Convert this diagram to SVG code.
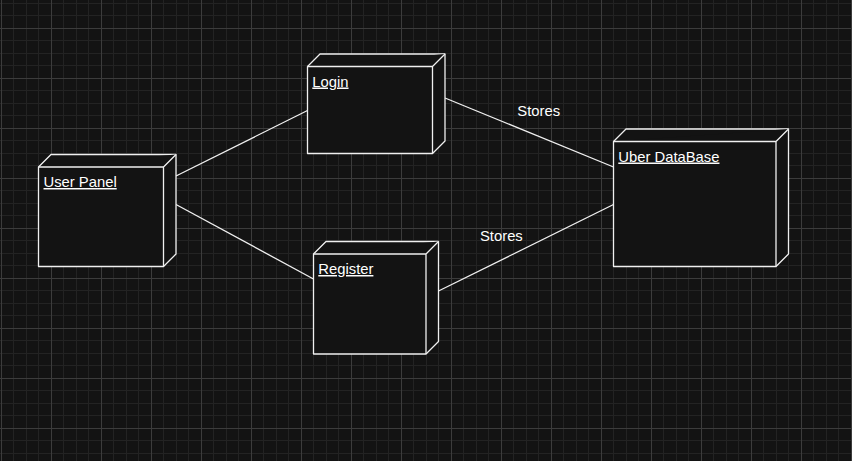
<svg xmlns="http://www.w3.org/2000/svg" width="852" height="461" viewBox="0 0 852 461">
  <defs>
    <pattern id="grid" patternUnits="userSpaceOnUse" x="1" y="28" width="50" height="50">
      <path d="M12.5 0V50M25.5 0V50M37.5 0V50M0 12.5H50M0 25.5H50M0 37.5H50" stroke="#232323" stroke-width="1" fill="none"/>
      <path d="M0.5 0V50M0 0.5H50" stroke="#3c3c3c" stroke-width="1" fill="none"/>
    </pattern>
    <style>
      .node path { fill: #131313; stroke: #f0f0f0; stroke-width: 1.3; stroke-linejoin: round; }
      .node text { font-family: "Liberation Sans", Arial, sans-serif; font-size: 14.8px; fill: #ffffff; text-decoration: underline; }
      .edge { stroke: #f0f0f0; stroke-width: 1.3; fill: none; }
      .lbl { font-family: "Liberation Sans", Arial, sans-serif; font-size: 14.8px; fill: #ffffff; }
    </style>
  </defs>
  <rect x="0" y="0" width="852" height="461" fill="#131313"/>
  <rect x="0" y="0" width="852" height="461" fill="url(#grid)"/>

  <g id="connectors">
    <line class="edge" x1="176" y1="176" x2="307.5" y2="110.5"/>
    <line class="edge" x1="176" y1="204.5" x2="313.5" y2="279"/>
    <line class="edge" x1="445" y1="98" x2="613.5" y2="167"/>
    <line class="edge" x1="438.5" y1="291" x2="613.5" y2="204.5"/>
    <text class="lbl" x="517.3" y="115.7">Stores</text>
    <text class="lbl" x="480" y="240.7">Stores</text>
  </g>

  <g id="user-panel" class="node">
    <path d="M38.5 167L51 154.5H176V254L163.5 266.5H38.5Z"/>
    <path d="M38.5 167H163.5L176 154.5M163.5 167V266.5" fill="none"/>
    <text x="43.5" y="187">User Panel</text>
  </g>

  <g id="login" class="node">
    <path d="M307.5 66.5L320 54H445V141L432.5 153.5H307.5Z"/>
    <path d="M307.5 66.5H432.5L445 54M432.5 66.5V153.5" fill="none"/>
    <text x="312.3" y="86.5">Login</text>
  </g>

  <g id="uber-database" class="node">
    <path d="M613.5 141.5L626 129H788.5V254L776 266.5H613.5Z"/>
    <path d="M613.5 141.5H776L788.5 129M776 141.5V266.5" fill="none"/>
    <text x="618.3" y="161.5">Uber DataBase</text>
  </g>

  <g id="register" class="node">
    <path d="M313.5 254L326 241.5H438.5V341.5L426 354H313.5Z"/>
    <path d="M313.5 254H426L438.5 241.5M426 254V354" fill="none"/>
    <text x="318.3" y="274">Register</text>
  </g>
</svg>
